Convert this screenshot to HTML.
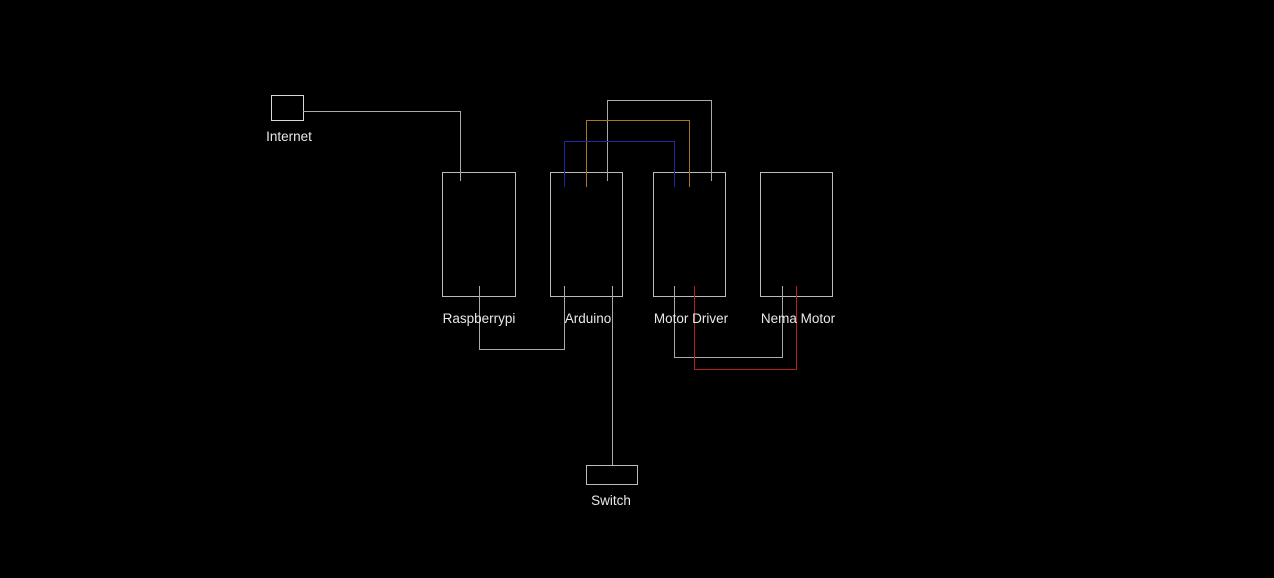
<!DOCTYPE html>
<html><head><style>
html,body{margin:0;padding:0;background:#000;}
svg{display:block}
text{font-family:"Liberation Sans",sans-serif;font-size:13.5px;fill:#e8e8e8}
</style></head><body>
<svg width="1274" height="578" viewBox="0 0 1274 578" xmlns="http://www.w3.org/2000/svg">
<rect width="1274" height="578" fill="#000"/>
<g fill="none" stroke-width="1">
<rect x="271.5" y="95.5" width="32" height="25" stroke="#d8d8d8"/>
<rect x="442.5" y="172.5" width="73" height="124" stroke="#bbb"/>
<rect x="550.5" y="172.5" width="72" height="124" stroke="#bbb"/>
<rect x="653.5" y="172.5" width="72" height="124" stroke="#bbb"/>
<rect x="760.5" y="172.5" width="72" height="124" stroke="#bbb"/>
<rect x="586.5" y="465.5" width="51" height="19" stroke="#bbb"/>
<polyline points="303,111.5 460.5,111.5 460.5,181" stroke="#aaa"/>
<polyline points="607.5,181 607.5,100.5 711.5,100.5 711.5,181" stroke="#aaa"/>
<polyline points="586.5,187 586.5,120.5 689.5,120.5 689.5,187" stroke="#a8781e"/>
<polyline points="564.5,187 564.5,141.5 674.5,141.5 674.5,187" stroke="#1a28a8"/>
<polyline points="479.5,286 479.5,349.5 564.5,349.5 564.5,286" stroke="#aaa"/>
<polyline points="612.5,286 612.5,465" stroke="#aaa"/>
<polyline points="674.5,286 674.5,357.5 782.5,357.5 782.5,286" stroke="#aaa"/>
<polyline points="694.5,286 694.5,369.5 796.5,369.5 796.5,286" stroke="#b81e1a"/>
</g>
<text x="289" y="141" text-anchor="middle">Internet</text>
<text x="479" y="323" text-anchor="middle">Raspberrypi</text>
<text x="588" y="323" text-anchor="middle">Arduino</text>
<text x="691" y="323" text-anchor="middle">Motor Driver</text>
<text x="798" y="323" text-anchor="middle">Nema Motor</text>
<text x="611" y="505" text-anchor="middle">Switch</text>
</svg>
</body></html>
